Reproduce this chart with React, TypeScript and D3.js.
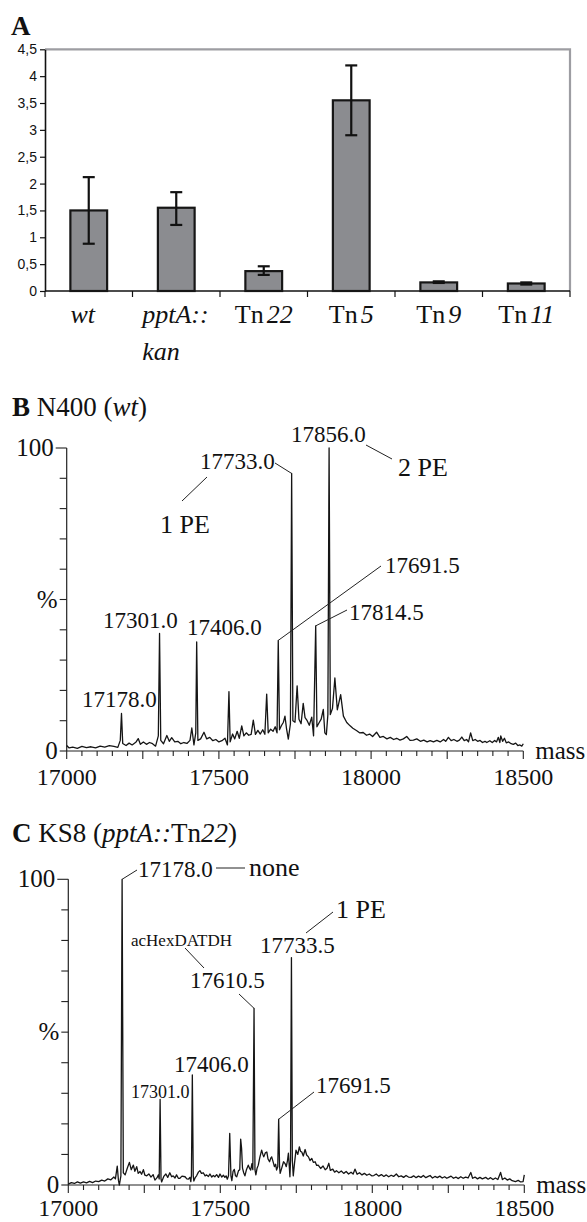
import React, { useRef, useEffect } from 'react';
import * as d3 from 'd3';

// panel A: relative amount per strain (mean, error bar high / low)
const strains = ['wt', 'pptA::kan', 'Tn22', 'Tn5', 'Tn9', 'Tn11'];
const ratio = [1.5, 1.55, 0.37, 3.55, 0.16, 0.14];
const errHigh = [2.12, 1.84, 0.46, 4.2, 0.18, 0.16];
const errLow = [0.88, 1.23, 0.3, 2.9, 0.15, 0.12];
const ratioTicks = [0, 0.5, 1, 1.5, 2, 2.5, 3, 3.5, 4, 4.5];

// panels B and C: deconvoluted mass spectra
const massLabels = [17000, 17500, 18000, 18500];
const intensityTicks = [0, 50, 100];
const intensityLabels = ['0', '%', '100'];

// N400 (wt): [mass, % intensity]
const wtSpectrum: [number, number][] = [
  [17000, 1.8], [17008, 1.0], [17020, 1.3], [17035, 0.9], [17050, 1.5], [17065, 1.1], [17080, 1.4],
  [17095, 1.0], [17110, 1.6], [17125, 1.3], [17140, 1.8], [17155, 1.5], [17168, 1.2], [17176, 3.5],
  [17180, 12.4], [17184, 2.5], [17195, 1.8], [17205, 2.6], [17215, 2.0], [17228, 3.0], [17235, 4.1],
  [17242, 2.2], [17252, 3.0], [17262, 2.2], [17272, 2.8], [17282, 2.4], [17292, 1.6], [17301, 5.0],
  [17305, 38.8], [17309, 3.5], [17318, 2.4], [17329, 5.1], [17337, 3.2], [17345, 4.4], [17355, 3.0],
  [17365, 3.2], [17375, 2.4], [17385, 2.8], [17395, 2.5], [17405, 3.5], [17411, 7.6], [17418, 2.0],
  [17424, 6.0], [17427, 36.0], [17431, 3.5], [17440, 4.0], [17451, 6.2], [17460, 4.0], [17470, 4.5],
  [17480, 3.4], [17490, 3.8], [17500, 3.0], [17510, 3.4], [17520, 4.2], [17528, 2.0], [17533, 19.6],
  [17537, 3.0], [17545, 5.6], [17552, 4.0], [17560, 6.5], [17567, 4.2], [17575, 8.3], [17582, 5.0],
  [17590, 6.0], [17598, 5.2], [17606, 5.5], [17613, 10.2], [17620, 5.5], [17628, 6.8], [17636, 5.6],
  [17644, 7.0], [17651, 5.5], [17657, 18.8], [17662, 6.0], [17670, 7.2], [17678, 6.5], [17685, 8.0],
  [17691, 6.0], [17695, 36.5], [17699, 7.0], [17706, 8.5], [17712, 9.5], [17717, 11.5], [17722, 7.5],
  [17728, 3.9], [17735, 9.0], [17739, 91.6], [17743, 10.0], [17750, 9.5], [17757, 21.5], [17763, 10.5],
  [17770, 9.0], [17777, 15.7], [17783, 11.0], [17790, 10.0], [17797, 8.5], [17805, 11.2], [17811, 5.0],
  [17818, 41.3], [17822, 8.0], [17830, 9.5], [17836, 10.5], [17843, 13.7], [17848, 6.0], [17853, 5.4],
  [17858, 12.0], [17862, 100], [17866, 12.0], [17873, 14.0], [17881, 24.1], [17889, 13.6], [17900, 18.6],
  [17909, 11.5], [17920, 9.4], [17931, 8.3], [17940, 7.5], [17953, 6.7], [17962, 6.0], [17974, 6.1],
  [17985, 5.2], [17995, 5.6], [18005, 4.8], [18018, 6.2], [18029, 4.5], [18040, 4.8], [18052, 4.0],
  [18063, 4.5], [18074, 3.8], [18084, 4.2], [18095, 3.6], [18106, 4.0], [18117, 4.8], [18128, 3.5],
  [18139, 3.6], [18150, 4.0], [18162, 3.2], [18173, 3.6], [18184, 3.0], [18194, 3.4], [18205, 3.0],
  [18216, 3.5], [18227, 3.0], [18238, 3.8], [18245, 3.2], [18254, 4.5], [18263, 3.4], [18272, 3.8],
  [18282, 3.2], [18290, 3.6], [18298, 4.6], [18306, 3.4], [18314, 3.8], [18320, 3.0], [18327, 6.0],
  [18334, 3.4], [18342, 3.8], [18350, 3.2], [18358, 3.5], [18366, 2.8], [18374, 3.2], [18380, 2.8],
  [18390, 3.4], [18398, 2.8], [18406, 3.5], [18412, 3.0], [18418, 4.5], [18423, 2.8], [18426, 5.0],
  [18432, 3.2], [18438, 4.2], [18444, 2.7], [18452, 3.0], [18460, 2.4], [18467, 2.2], [18475, 2.6],
  [18482, 1.8], [18489, 2.0], [18495, 1.6], [18500, 2.4]
];

// KS8 (pptA::Tn22): [mass, % intensity]
const ks8Spectrum: [number, number][] = [
  [17000, 0.3], [17010, 0.8], [17020, 0.5], [17030, 1.0], [17040, 0.6], [17050, 1.0], [17060, 0.7],
  [17070, 1.2], [17080, 0.8], [17090, 1.3], [17100, 1.1], [17110, 1.6], [17120, 1.3], [17130, 2.0],
  [17140, 1.7], [17150, 2.6], [17155, 2.0], [17161, 6.2], [17165, 1.5], [17168, 0], [17173, 3.0],
  [17177, 100], [17181, 4.0], [17187, 3.3], [17194, 5.5], [17201, 7.4], [17207, 5.0], [17214, 6.5],
  [17219, 4.5], [17225, 6.0], [17230, 3.8], [17236, 4.4], [17241, 3.5], [17247, 5.0], [17252, 3.2],
  [17258, 3.0], [17265, 3.6], [17272, 2.6], [17279, 3.4], [17285, 1.6], [17292, 2.4], [17296, 3.3],
  [17299, 2.0], [17302, 28.0], [17305, 2.0], [17307, 1.0], [17314, 2.8], [17321, 3.6], [17327, 2.5],
  [17334, 4.0], [17340, 2.7], [17345, 3.0], [17351, 2.3], [17356, 3.3], [17362, 2.2], [17367, 2.2],
  [17374, 2.9], [17384, 2.7], [17390, 2.0], [17395, 1.9], [17400, 2.5], [17403, 1.1], [17405, 3.0],
  [17408, 36.0], [17411, 3.0], [17413, 1.3], [17418, 2.5], [17422, 3.0], [17428, 4.2], [17433, 4.7],
  [17438, 3.8], [17444, 4.0], [17450, 3.0], [17455, 3.3], [17461, 2.8], [17466, 3.6], [17472, 2.6],
  [17477, 3.1], [17482, 2.7], [17488, 3.4], [17494, 2.5], [17499, 3.6], [17505, 2.6], [17510, 3.2],
  [17515, 2.5], [17519, 3.0], [17523, 1.9], [17527, 3.0], [17531, 16.9], [17535, 3.0], [17538, 1.4],
  [17542, 4.5], [17546, 5.1], [17550, 3.0], [17554, 2.7], [17560, 4.7], [17564, 5.0], [17567, 15.0],
  [17570, 12.0], [17573, 5.5], [17577, 4.0], [17581, 3.0], [17586, 5.0], [17592, 6.5], [17596, 5.5],
  [17600, 4.9], [17604, 7.0], [17607, 5.0], [17611, 57.8], [17614, 5.0], [17617, 3.3], [17621, 5.5],
  [17625, 6.5], [17630, 9.0], [17636, 11.4], [17640, 10.0], [17643, 9.2], [17648, 10.5], [17653, 10.8],
  [17657, 8.5], [17662, 7.6], [17666, 8.8], [17669, 9.2], [17674, 7.5], [17678, 6.0], [17682, 6.8],
  [17685, 4.9], [17689, 6.0], [17692, 21.5], [17695, 6.0], [17697, 3.8], [17702, 5.5], [17708, 7.6],
  [17713, 7.0], [17717, 6.0], [17721, 8.0], [17724, 10.4], [17727, 6.0], [17729, 2.7], [17731, 8.0],
  [17734, 74.4], [17737, 8.0], [17740, 3.0], [17744, 7.0], [17749, 11.4], [17755, 10.0], [17760, 12.5],
  [17764, 11.0], [17768, 10.8], [17773, 9.5], [17779, 11.6], [17784, 9.8], [17790, 9.2], [17795, 8.0],
  [17801, 8.7], [17806, 7.4], [17812, 7.6], [17817, 6.4], [17822, 6.5], [17830, 5.4], [17838, 6.2],
  [17845, 5.0], [17851, 5.5], [17857, 7.1], [17862, 4.8], [17870, 5.2], [17876, 4.2], [17882, 4.7],
  [17890, 4.0], [17898, 4.6], [17906, 3.8], [17914, 4.4], [17922, 3.6], [17930, 4.2], [17937, 3.6],
  [17943, 5.2], [17950, 3.5], [17958, 4.0], [17966, 3.3], [17974, 3.8], [17982, 3.2], [17990, 3.6],
  [17998, 3.0], [18005, 3.1], [18013, 3.6], [18021, 2.9], [18030, 3.4], [18038, 2.8], [18046, 3.3],
  [18054, 2.7], [18062, 3.2], [18070, 2.8], [18079, 3.6], [18087, 2.7], [18095, 3.0], [18103, 2.5],
  [18111, 3.1], [18119, 2.6], [18128, 2.5], [18136, 3.0], [18144, 2.4], [18152, 2.9], [18160, 2.5],
  [18168, 3.1], [18176, 2.4], [18184, 2.8], [18190, 3.1], [18198, 2.3], [18206, 2.8], [18214, 2.4],
  [18222, 2.9], [18230, 2.3], [18238, 2.7], [18245, 2.2], [18251, 2.5], [18259, 2.9], [18267, 2.2],
  [18275, 2.6], [18283, 2.1], [18291, 2.7], [18299, 2.2], [18307, 2.6], [18315, 2.3], [18324, 4.1],
  [18330, 2.2], [18338, 2.6], [18346, 2.0], [18354, 2.5], [18362, 2.0], [18373, 2.5], [18381, 1.9],
  [18389, 2.4], [18397, 1.8], [18405, 2.3], [18413, 1.8], [18422, 4.1], [18428, 1.8], [18436, 2.3],
  [18444, 1.6], [18452, 2.0], [18460, 1.4], [18471, 1.1], [18480, 1.5], [18488, 1.0], [18496, 1.1],
  [18500, 3.3]
];

const serif = "'Liberation Serif', 'Times New Roman', serif";
const sans = "'Liberation Sans', Arial, sans-serif";

type Sel = d3.Selection<SVGSVGElement, unknown, null, undefined>;
type Part = [string, boolean];

function addText(g: d3.Selection<SVGGElement, unknown, null, undefined>, parts: Part[], x: number, y: number, size: number, anchor = 'start', bold = -1) {
  const t = g.append('text')
    .attr('x', x).attr('y', y)
    .attr('text-anchor', anchor)
    .attr('font-family', serif)
    .attr('font-size', size)
    .attr('fill', '#111');
  parts.forEach(([s, it], i) => {
    t.append('tspan')
      .attr('font-style', it ? 'italic' : 'normal')
      .attr('font-weight', i === bold ? 'bold' : 'normal')
      .text(s);
  });
  return t;
}

function drawBars(svg: Sel) {
  const left = 45, right = 570, top = 49.3, bottom = 291;
  const x = d3.scaleBand<string>().domain(strains).range([left, right]).paddingInner(0.58).paddingOuter(0.29);
  const y = d3.scaleLinear().domain([0, 4.5]).range([bottom, top]);
  const g = svg.append('g');

  addText(g, [['A', false]], 11, 35, 27, 'start', 0);

  g.append('path')
    .attr('d', `M${left},${top}H${right}V${bottom}`)
    .attr('fill', 'none').attr('stroke', '#9d9da2').attr('stroke-width', 2.2);

  const yAxis = g.append('g')
    .attr('transform', `translate(${left},0)`)
    .call(d3.axisLeft(y).tickValues(ratioTicks).tickSize(5).tickSizeOuter(0)
      .tickFormat(d => String(d).replace('.', ',')));
  yAxis.select('.domain').attr('stroke', '#111').attr('stroke-width', 1.6);
  yAxis.selectAll('.tick line').attr('stroke', '#111').attr('stroke-width', 1.2);
  yAxis.selectAll('.tick text').attr('font-family', sans).attr('font-size', 14).attr('fill', '#111').attr('x', -8);

  const step = x.step();
  const edges = strains.map(s => (x(s) || 0) + x.bandwidth() / 2 - step / 2).concat([right]);
  g.selectAll('line.cat').data(edges).enter().append('line')
    .attr('x1', d => d).attr('x2', d => d).attr('y1', bottom).attr('y2', bottom + 6)
    .attr('stroke', '#111').attr('stroke-width', 1.2);
  g.append('line').attr('x1', left).attr('x2', right).attr('y1', bottom).attr('y2', bottom)
    .attr('stroke', '#111').attr('stroke-width', 1.6);

  g.selectAll('rect.bar').data(strains).enter().append('rect')
    .attr('x', d => x(d) || 0)
    .attr('y', (d, i) => y(ratio[i]))
    .attr('width', x.bandwidth())
    .attr('height', (d, i) => bottom - y(ratio[i]))
    .attr('fill', '#8b8c90').attr('stroke', '#161616').attr('stroke-width', 2.2);

  strains.forEach((s, i) => {
    const cx = (x(s) || 0) + x.bandwidth() / 2;
    const eb = g.append('g').attr('stroke', '#111').attr('stroke-width', 2.2);
    eb.append('line').attr('x1', cx).attr('x2', cx).attr('y1', y(errHigh[i])).attr('y2', y(errLow[i]));
    eb.append('line').attr('x1', cx - 6).attr('x2', cx + 6).attr('y1', y(errHigh[i])).attr('y2', y(errHigh[i]));
    eb.append('line').attr('x1', cx - 6).attr('x2', cx + 6).attr('y1', y(errLow[i])).attr('y2', y(errLow[i]));

    const m = s.match(/^Tn(\d+)$/);
    if (m) {
      const t = addText(g, [['Tn', false], [m[1], true]], cx, 323, 26, 'middle');
      t.select('tspan:nth-child(2)').attr('dx', 3);
    } else if (s.includes('::')) {
      const [a, b] = s.split('::');
      addText(g, [[a + '::', true]], cx - 34, 323, 26);
      addText(g, [[b, true]], cx - 34, 360, 26);
    } else {
      addText(g, [[s, true]], cx - 6, 323, 26, 'middle');
    }
  });
}

interface Note { text: string; x: number; y: number; size: number; leader?: [number, number][]; peak?: [number, number]; }

function drawSpectrum(svg: Sel, data: [number, number][], left: number, right: number, top: number, bottom: number,
  header: Part[], headerY: number, labelY: number, notes: Note[]) {
  const x = d3.scaleLinear().domain([17000, 18500]).range([left, right]);
  const y = d3.scaleLinear().domain([0, 100]).range([bottom, top]);
  const g = svg.append('g');

  addText(g, header, 12, headerY, 27, 'start', 0);

  // y axis
  g.append('line').attr('x1', left).attr('x2', left).attr('y1', top).attr('y2', bottom)
    .attr('stroke', '#222').attr('stroke-width', 1.2);
  g.selectAll('line.yt').data(d3.range(0, 101, 10)).enter().append('line')
    .attr('x1', d => left - (d === 100 ? 11 : 7)).attr('x2', left)
    .attr('y1', d => y(d)).attr('y2', d => y(d))
    .attr('stroke', '#222').attr('stroke-width', 1.1);
  intensityTicks.forEach((v, i) => {
    g.append('text').attr('x', left - (v === 100 ? 13 : 9)).attr('y', y(v) + 8)
      .attr('text-anchor', 'end').attr('font-family', serif).attr('font-size', 25).attr('fill', '#111')
      .text(intensityLabels[i]);
  });

  // x axis
  g.append('line').attr('x1', left).attr('x2', right).attr('y1', bottom).attr('y2', bottom)
    .attr('stroke', '#222').attr('stroke-width', 1.2);
  g.selectAll('line.xt').data(d3.range(17000, 18501, 50)).enter().append('line')
    .attr('x1', d => x(d)).attr('x2', d => x(d))
    .attr('y1', bottom).attr('y2', d => bottom + (d % 250 === 0 ? 8 : 5))
    .attr('stroke', '#222').attr('stroke-width', 1.1);
  massLabels.forEach(v => {
    g.append('text').attr('x', x(v)).attr('y', labelY)
      .attr('text-anchor', 'middle').attr('font-family', serif).attr('font-size', 24).attr('fill', '#111')
      .text(String(v));
  });
  g.append('text').attr('x', right + 12).attr('y', bottom + 8)
    .attr('font-family', serif).attr('font-size', 25).attr('fill', '#111').text('mass');

  // trace
  const line = d3.line<[number, number]>().x(d => x(d[0])).y(d => y(d[1]));
  g.append('path').datum(data).attr('d', line)
    .attr('fill', 'none').attr('stroke', '#151515').attr('stroke-width', 1.3).attr('stroke-linejoin', 'round');

  // peak annotations
  notes.forEach(n => {
    if (n.text) addText(g, [[n.text, false]], n.x, n.y, n.size);
    if (n.leader) {
      const pts = n.leader.slice();
      if (n.peak) pts.push([x(n.peak[0]), y(n.peak[1])]);
      g.append('path').attr('d', d3.line()(pts))
        .attr('fill', 'none').attr('stroke', '#222').attr('stroke-width', 1);
    }
  });
}

const App: React.FC = () => {
  const svgRef = useRef<SVGSVGElement>(null);

  useEffect(() => {
    if (!svgRef.current) return;
    const svg = d3.select(svgRef.current);
    svg.selectAll('*').remove();

    drawBars(svg);

    drawSpectrum(svg, wtSpectrum, 66.7, 523.3, 448, 751,
      [['B', false], [' N400 (', false], ['wt', true], [')', false]], 416, 785, [
        { text: '17856.0', x: 291, y: 442, size: 23 },
        { text: '', x: 0, y: 0, size: 1, leader: [[366, 445], [392, 459]] },
        { text: '2 PE', x: 398, y: 476, size: 26 },
        { text: '17733.0', x: 200, y: 469, size: 23, leader: [[275, 463]], peak: [17739, 91.6] },
        { text: '1 PE', x: 160, y: 533, size: 26, leader: [[182, 501], [207, 477]] },
        { text: '17691.5', x: 385, y: 573, size: 23, leader: [[381, 566]], peak: [17695, 36.5] },
        { text: '17814.5', x: 349, y: 620, size: 23, leader: [[347, 610]], peak: [17818, 41.3] },
        { text: '17406.0', x: 187, y: 635, size: 23 },
        { text: '17301.0', x: 103, y: 628, size: 23 },
        { text: '17178.0', x: 82, y: 707, size: 23 }
      ]);

    drawSpectrum(svg, ks8Spectrum, 68.3, 524.3, 879.3, 1185,
      [['C', false], [' KS8 (', false], ['pptA::', true], ['Tn', false], ['22', true], [')', false]], 842, 1216, [
        { text: '17178.0', x: 138, y: 877, size: 23, leader: [[137, 870]], peak: [17177, 100] },
        { text: '', x: 0, y: 0, size: 1, leader: [[216, 868], [245, 868]] },
        { text: 'none', x: 249, y: 876, size: 26 },
        { text: '1 PE', x: 336, y: 918, size: 26, leader: [[333, 912], [306, 933]] },
        { text: '17733.5', x: 260, y: 953, size: 23 },
        { text: 'acHexDATDH', x: 131, y: 946, size: 17, leader: [[185, 948], [204, 968]] },
        { text: '17610.5', x: 190, y: 988, size: 23, leader: [[239, 994]], peak: [17611, 57.8] },
        { text: '17406.0', x: 174, y: 1072, size: 23 },
        { text: '17301.0', x: 131, y: 1098, size: 18 },
        { text: '17691.5', x: 316, y: 1093, size: 23, leader: [[314, 1092]], peak: [17692, 21.5] }
      ]);
  }, []);

  return (
    <svg ref={svgRef} width="587" height="1222"
      style={{ position: 'absolute', left: 0, top: 0, background: '#fff' }}></svg>
  );
};

export default App;
